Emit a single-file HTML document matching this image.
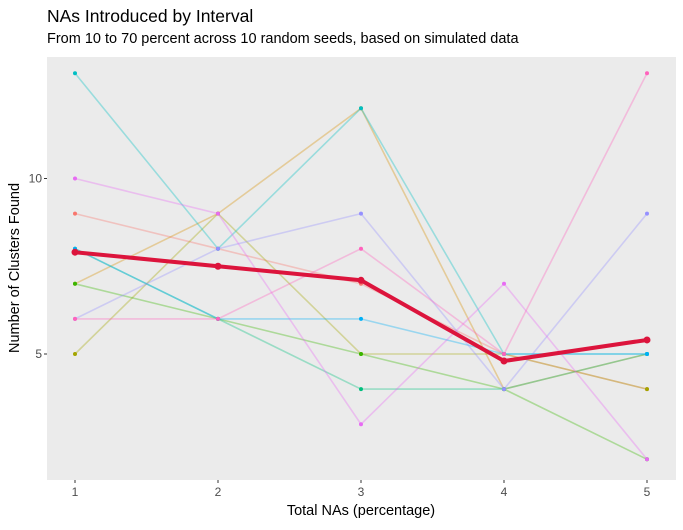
<!DOCTYPE html>
<html><head><meta charset="utf-8"><style>
body{margin:0;background:#fff;font-family:"Liberation Sans",Arial,sans-serif}
</style></head><body>
<svg id="chart" width="683" height="525" xmlns="http://www.w3.org/2000/svg">
<text x="47" y="22" font-size="17.5" fill="#000">NAs Introduced by Interval</text>
<text x="47" y="43" font-size="14.5" fill="#000">From 10 to 70 percent across 10 random seeds, based on simulated data</text>
<rect x="47" y="57" width="629" height="423" fill="#EBEBEB"/>
<g id="series"></g>
<g id="axes"></g>
<text x="361" y="515" font-size="14.5" text-anchor="middle">Total NAs (percentage)</text>
<text transform="translate(19,268) rotate(-90)" font-size="14.5" text-anchor="middle">Number of Clusters Found</text>
</svg>
<script>
const xCats = [1, 2, 3, 4, 5];
const seedColors = ["#F8766D","#D89000","#A3A500","#39B600","#00BF7D","#00BFC4","#00B0F6","#9590FF","#E76BF3","#FF62BC"];
const seedRed = [9, 8, 7, 5, 4];
const seedOrange = [7, 9, 12, 4, 5];
const seedOlive = [5, 9, 5, 5, 4];
const seedGreen = [7, 6, 5, 4, 2];
const seedTealGreen = [8, 6, 4, 4, 5];
const seedCyan = [13, 8, 12, 5, 5];
const seedBlue = [8, 6, 6, 5, 5];
const seedPurple = [6, 8, 9, 4, 9];
const seedMagenta = [10, 9, 3, 7, 2];
const seedPink = [6, 6, 8, 5, 13];
const meanValues = [7.9, 7.5, 7.1, 4.8, 5.4];
const yTicks = [5, 10];
const seriesList = [seedRed, seedOrange, seedOlive, seedGreen, seedTealGreen, seedCyan, seedBlue, seedPurple, seedMagenta, seedPink];

const NS = "http://www.w3.org/2000/svg";
const xs = v => 75 + (v - 1) * 143;
const ys = v => 354 - (v - 5) * 35.1;
const sg = document.getElementById('series');
seriesList.forEach((s, i) => {
  const pl = document.createElementNS(NS, 'polyline');
  pl.setAttribute('points', s.map((v, j) => xs(xCats[j]) + ',' + ys(v)).join(' '));
  pl.setAttribute('fill', 'none');
  pl.setAttribute('stroke', seedColors[i]);
  pl.setAttribute('stroke-width', '1.6');
  pl.setAttribute('stroke-opacity', '0.35');
  
  
  sg.appendChild(pl);
});
seriesList.forEach((s, i) => {
  s.forEach((v, j) => {
    const c = document.createElementNS(NS, 'circle');
    c.setAttribute('cx', xs(xCats[j]));
    c.setAttribute('cy', ys(v));
    c.setAttribute('r', '2');
    c.setAttribute('fill', seedColors[i]);
    
    
    sg.appendChild(c);
  });
});
const ml = document.createElementNS(NS, 'polyline');
ml.setAttribute('points', meanValues.map((v, j) => xs(xCats[j]) + ',' + ys(v)).join(' '));
ml.setAttribute('fill', 'none');
ml.setAttribute('stroke', '#DC143C');
ml.setAttribute('stroke-width', '4');
ml.setAttribute('stroke-linejoin', 'round');


sg.appendChild(ml);
meanValues.forEach((v, j) => {
  const c = document.createElementNS(NS, 'circle');
  c.setAttribute('cx', xs(xCats[j]));
  c.setAttribute('cy', ys(v));
  c.setAttribute('r', '3.5');
  c.setAttribute('fill', '#DC143C');
  
  
  sg.appendChild(c);
});
const ag = document.getElementById('axes');
xCats.forEach(v => {
  const t = document.createElementNS(NS, 'line');
  t.setAttribute('x1', xs(v)); t.setAttribute('x2', xs(v));
  t.setAttribute('y1', 480); t.setAttribute('y2', 483);
  t.setAttribute('stroke', '#333');
  
  
  ag.appendChild(t);
  const l = document.createElementNS(NS, 'text');
  l.setAttribute('x', xs(v)); l.setAttribute('y', 496);
  l.setAttribute('font-size', '12'); l.setAttribute('fill', '#4D4D4D');
  l.setAttribute('text-anchor', 'middle');
  l.textContent = v;
  
  
  ag.appendChild(l);
});
yTicks.forEach(v => {
  const t = document.createElementNS(NS, 'line');
  t.setAttribute('x1', 44); t.setAttribute('x2', 47);
  t.setAttribute('y1', ys(v)); t.setAttribute('y2', ys(v));
  t.setAttribute('stroke', '#333');
  
  
  ag.appendChild(t);
  const l = document.createElementNS(NS, 'text');
  l.setAttribute('x', 42); l.setAttribute('y', ys(v) + 4);
  l.setAttribute('font-size', '12'); l.setAttribute('fill', '#4D4D4D');
  l.setAttribute('text-anchor', 'end');
  l.textContent = v;
  
  
  ag.appendChild(l);
});
</script>
</body></html>
